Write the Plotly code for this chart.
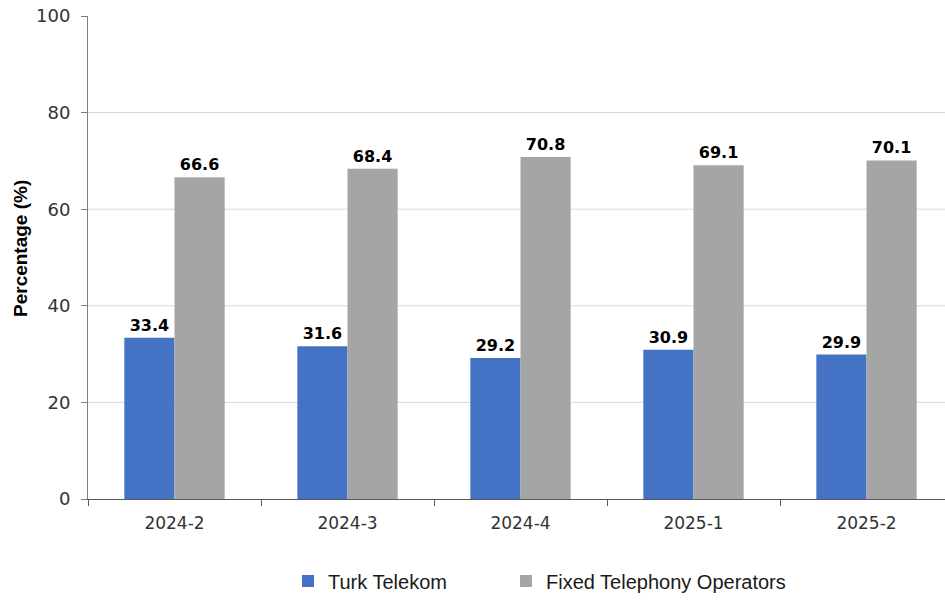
import plotly.graph_objects as go

categories = ["2024-2", "2024-3", "2024-4", "2025-1", "2025-2"]
turk_telekom = [33.4, 31.6, 29.2, 30.9, 29.9]
fixed_operators = [66.6, 68.4, 70.8, 69.1, 70.1]
y_ticks = [0, 20, 40, 60, 80, 100]
grid_vals = [20, 40, 60, 80]

label_font = dict(family="DejaVu Sans", size=16, color="#000000", weight="bold")

fig = go.Figure()
fig.add_trace(go.Bar(
    x=categories, y=turk_telekom, name="Turk Telekom",
    marker=dict(color="#4472C4", line=dict(width=0)),
    text=[f"{v:.1f}" for v in turk_telekom], textposition="outside",
    textfont=label_font, cliponaxis=False, legend="legend",
))
fig.add_trace(go.Bar(
    x=categories, y=fixed_operators, name="Fixed Telephony Operators",
    marker=dict(color="#A5A5A5", line=dict(width=0)),
    text=[f"{v:.1f}" for v in fixed_operators], textposition="outside",
    textfont=label_font, cliponaxis=False, legend="legend2",
))

for g in grid_vals:
    fig.add_shape(type="line", xref="paper", x0=0, x1=1, yref="y", y0=g, y1=g,
                  line=dict(color="#D9D9D9", width=1), layer="below")

L, T, B = 88, 16, 101
PW, PH = 945 - L, 600 - T - B
BOTTOM = 600 - B
# plot area continues ~8px past the right edge, as in the reference
x_range = [-0.5, 4.5 - 8 / 173]

fig.add_annotation(
    text="<b>Percentage (%)</b>", xref="paper", yref="paper",
    x=(20 - L) / PW, y=(BOTTOM - 249) / PH, xanchor="center", yanchor="middle",
    textangle=-90, showarrow=False,
    font=dict(family="Liberation Sans", size=19, color="#000000"),
)

leg_font = dict(family="Liberation Sans", size=20, color="#1a1a1a")
fig.update_layout(
    width=945, height=600,
    margin=dict(l=L, r=0, t=T, b=B, autoexpand=False),
    paper_bgcolor="white", plot_bgcolor="white",
    barmode="group", bargap=0.42, bargroupgap=0,
    font=dict(family="DejaVu Sans", color="#333333"),
    legend=dict(orientation="h", x=(288 - L) / PW, xanchor="left", y=(BOTTOM - 581) / PH,
                yanchor="middle", font=leg_font, itemwidth=30),
    legend2=dict(orientation="h", x=(506 - L) / PW, xanchor="left", y=(BOTTOM - 581) / PH,
                 yanchor="middle", font=leg_font, itemwidth=30),
    showlegend=True,
)
fig.update_xaxes(
    type="category", range=x_range, showline=True, linecolor="#595959", linewidth=1,
    ticks="outside", tickson="boundaries", ticklen=6, tickcolor="#595959",
    tickfont=dict(family="DejaVu Sans", size=17, color="#333333"),
    ticklabelstandoff=9, showgrid=False, automargin=False,
)
fig.update_yaxes(
    range=[0, 100], tickvals=y_ticks, showline=True, linecolor="#7f7f7f", linewidth=1,
    ticks="outside", ticklen=6, tickcolor="#7f7f7f", showgrid=False, zeroline=False,
    tickfont=dict(family="DejaVu Sans", size=18, color="#333333"),
    ticklabelstandoff=7, ticklabeloverflow="allow", automargin=False,
)

fig.write_html("out.html", config={"displayModeBar": False},
               post_script="document.body.style.margin='0';")
